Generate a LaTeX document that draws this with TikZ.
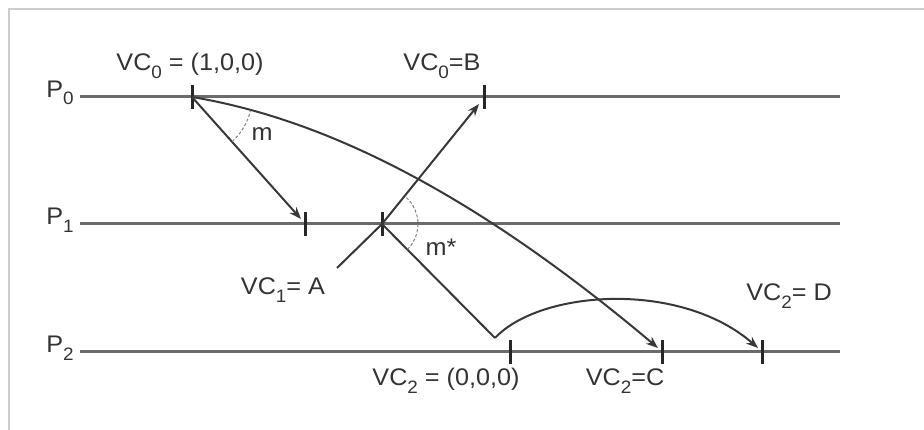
\documentclass[tikz,border=0pt]{standalone}
\usepackage{fontspec}
\setmainfont[FakeStretch=1.05]{Liberation Sans}
\usetikzlibrary{arrows.meta,calc}
\newcommand\sbs[1]{\raisebox{-0.6ex}{\fontsize{18}{18}\selectfont #1}}
\begin{document}
\begin{tikzpicture}[x=1pt,y=1pt,
  proc/.style={draw=black!58,line width=3pt},
  tickmark/.style={draw=black!85,line width=3pt},
  msg/.style={draw=black!78,line width=2pt},
  arr/.style={msg,-{Stealth[length=12pt,width=9pt]}},
  anglearc/.style={draw=black!50,line width=1pt,dash pattern=on 3pt off 2pt},
  lbl/.style={font=\fontsize{24}{26}\selectfont,text=black!80,inner sep=0pt},
  plbl/.style={font=\fontsize{24}{26}\selectfont,text=black!80,inner sep=0pt}]
\useasboundingbox (0,0) rectangle (924,430);
% frame shadow
\draw[black!20,line width=2.5pt] (9,0) -- (9,421) -- (924,421);
% process lines
\coordinate (p0l) at (80,333); \coordinate (p0r) at (840,333);
\coordinate (p1l) at (80,206); \coordinate (p1r) at (840,206);
\coordinate (p2l) at (80,78);  \coordinate (p2r) at (840,78);
\draw[proc] (p0l) -- (p0r);
\draw[proc] (p1l) -- (p1r);
\draw[proc] (p2l) -- (p2r);
\node[plbl] (P0) at (60,337) {P\sbs{0}};
\node[plbl] (P1) at (60,210) {P\sbs{1}};
\node[plbl] (P2) at (60,82) {P\sbs{2}};
% events
\coordinate (s0) at (192,333);
\coordinate (B) at (484,333);
\coordinate (r1) at (305,206);
\coordinate (e1) at (382,206);
\coordinate (e2) at (510,78);
\coordinate (C) at (662,78);
\coordinate (D) at (762,78);
\coordinate (Astart) at (337,162);
\coordinate (bend) at (495,92);
\foreach \p in {s0,B,r1,e1,e2,C,D}
  \draw[tickmark] ($(\p)+(0,-12)$) -- ($(\p)+(0,12)$);
% messages
\draw[arr] (s0) -- ($(r1)+(-4,5)$);
\draw[arr] (s0) .. controls (330,310) and (480,232) .. ($(C)+(-4,4)$);
\draw[msg] (Astart) -- (e1);
\draw[arr] (e1) -- ($(B)+(-5,-7)$);
\draw[msg] (e1) -- (bend);
\draw[arr] (bend) .. controls (540,140) and (680,150) .. ($(D)+(-4,4)$);
% angle arcs
\draw[anglearc] (s0) ++(-48:60) arc[start angle=-48,end angle=-13,radius=60];
\draw[anglearc] (e1) ++(-45:36) arc[start angle=-45,end angle=50,radius=36];
% labels
\node[lbl] (l1) at (190,364) {VC\sbs{0} = (1,0,0)};
\node[lbl] (l2) at (442,364) {VC\sbs{0}=B};
\node[lbl] (lm) at (262,296) {m};
\node[lbl] (lms) at (441,183) {m*};
\node[lbl] (lA) at (283,140) {VC\sbs{1}= A};
\node[lbl] (l3) at (446,49) {VC\sbs{2} = (0,0,0)};
\node[lbl] (l4) at (625,49) {VC\sbs{2}=C};
\node[lbl] (l5) at (789,134) {VC\sbs{2}= D};
\end{tikzpicture}
\end{document}
